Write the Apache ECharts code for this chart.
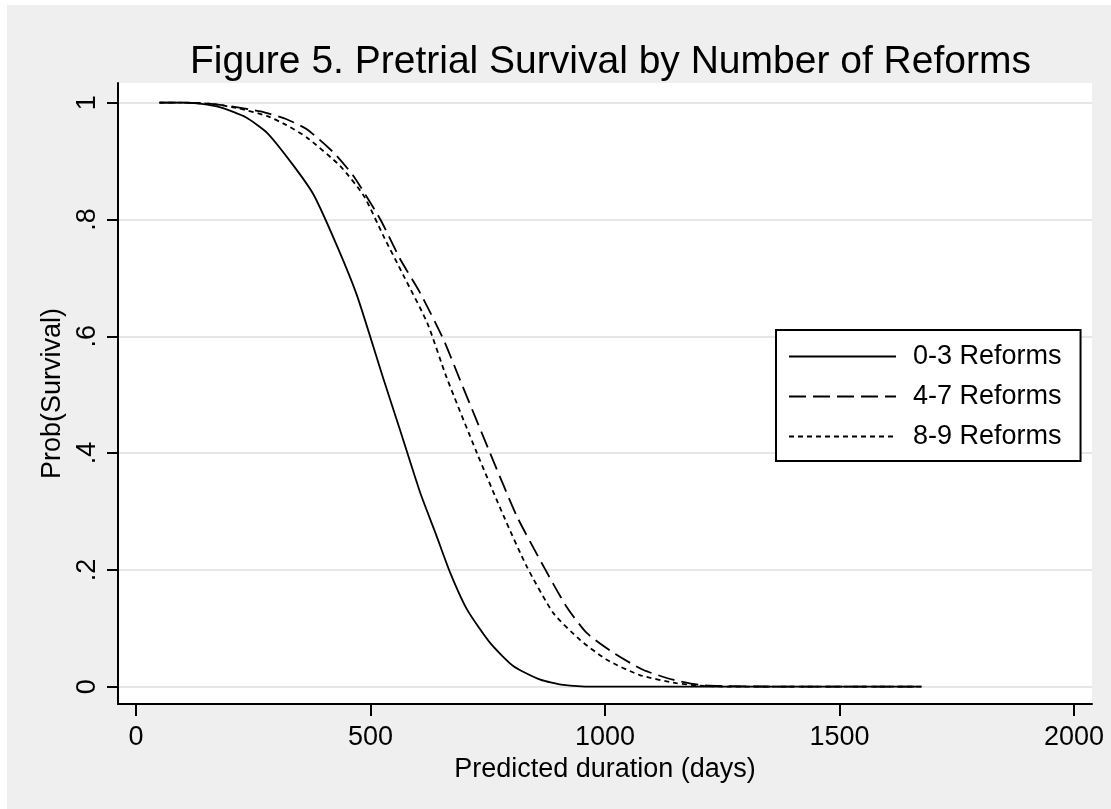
<!DOCTYPE html>
<html>
<head>
<meta charset="utf-8">
<title>Pretrial Survival by Number of Reforms</title>
<script src="https://cdn.jsdelivr.net/npm/echarts@6/dist/echarts.min.js"></script>
<style>
  html, body { margin: 0; padding: 0; background: #ffffff; }
  #chart { position: absolute; left: 7px; top: 5px; width: 1104px; height: 804px; }
</style>
</head>
<body>
<div id="chart"></div>
<script>
// Predicted survival curves (probability of remaining in pretrial) by reform count.
const days03 = [50, 100, 140, 180, 234, 280, 337, 379, 429, 472, 528, 564, 606, 640, 670, 706, 755, 805, 862, 911, 975, 1100, 1300, 1500, 1675];
const surv03 = [1, 1, 0.998, 0.992, 0.975, 0.948, 0.891, 0.842, 0.754, 0.668, 0.526, 0.437, 0.332, 0.26, 0.195, 0.132, 0.075, 0.035, 0.012, 0.003, 0, 0, 0, 0, 0];

const days47 = [50, 100, 160, 210, 266, 320, 365, 422, 464, 521, 564, 606, 656, 688, 755, 812, 869, 918, 961, 1018, 1081, 1145, 1202, 1260, 1400, 1675];
const surv47 = [1, 1, 0.998, 0.993, 0.985, 0.972, 0.954, 0.914, 0.874, 0.80, 0.731, 0.674, 0.594, 0.531, 0.40, 0.292, 0.206, 0.137, 0.092, 0.058, 0.029, 0.012, 0.003, 0.001, 0, 0];

const days89 = [50, 100, 160, 220, 280, 320, 365, 436, 486, 528, 571, 621, 662, 727, 784, 833, 890, 947, 1004, 1074, 1152, 1202, 1260, 1400, 1675];
const surv89 = [1, 1, 0.998, 0.99, 0.977, 0.962, 0.94, 0.891, 0.84, 0.771, 0.703, 0.623, 0.53, 0.40, 0.292, 0.206, 0.126, 0.08, 0.046, 0.02, 0.006, 0.002, 0, 0, 0];

const seriesNames = ['0-3 Reforms', '4-7 Reforms', '8-9 Reforms'];
const xTicks = [0, 500, 1000, 1500, 2000];
const yTicks = [0, 0.2, 0.4, 0.6, 0.8, 1];

const FONT = '"Liberation Sans", Arial, Helvetica, sans-serif';

function pairs(xs, ys) {
  return xs.map((x, i) => [x, ys[i]]);
}

function yLabel(v) {
  if (v === 0) return '0';
  if (v === 1) return '1';
  return String(Math.round(v * 10) / 10).replace(/^0\./, '.');
}

const chart = echarts.init(document.getElementById('chart'), null, { renderer: 'canvas' });

function curve(name, xs, ys, dash) {
  return {
    name: name,
    type: 'line',
    data: pairs(xs, ys),
    showSymbol: false,
    symbol: 'none',
    smooth: 0.2,
    lineStyle: { color: '#000000', width: 1.8, type: dash },
    itemStyle: { color: '#000000' },
    emphasis: { disabled: true },
    animation: false
  };
}

chart.setOption({
  backgroundColor: '#efefef',
  animation: false,
  textStyle: { fontFamily: FONT },
  title: {
    text: 'Figure 5. Pretrial Survival by Number of Reforms',
    left: 178,
    top: 33,
    textStyle: { fontFamily: FONT, fontSize: 39, fontWeight: 'normal', color: '#000000' }
  },
  grid: {
    left: 111,
    top: 78,
    right: 19,
    bottom: 105,
    show: true,
    backgroundColor: '#ffffff',
    borderWidth: 0
  },
  legend: {
    orient: 'vertical',
    left: 769,
    top: 325,
    data: seriesNames,
    itemWidth: 107,
    itemHeight: 20,
    itemGap: 13,
    padding: [13, 19, 11, 12],
    backgroundColor: '#ffffff',
    borderColor: '#000000',
    borderWidth: 2,
    borderRadius: 0,
    selectedMode: false,
    itemStyle: { color: 'rgba(0,0,0,0)', borderWidth: 0, opacity: 0 },
    textStyle: {
      fontFamily: FONT,
      fontSize: 27,
      color: '#000000',
      padding: [0, 0, 0, 12]
    }
  },
  xAxis: {
    type: 'value',
    min: -38.4,
    max: 2038.4,
    name: 'Predicted duration (days)',
    nameLocation: 'middle',
    nameGap: 45,
    nameTextStyle: { fontFamily: FONT, fontSize: 27, color: '#000000' },
    axisLine: { show: true, onZero: false, lineStyle: { color: '#000000', width: 2 } },
    axisTick: { show: true, length: 12, lineStyle: { color: '#000000', width: 2 }, customValues: xTicks },
    axisLabel: { fontFamily: FONT, fontSize: 27, color: '#000000', margin: 20, customValues: xTicks, formatter: v => String(v) },
    splitLine: { show: false }
  },
  yAxis: {
    type: 'value',
    min: -0.0296,
    max: 1.0337,
    name: 'Prob(Survival)',
    nameLocation: 'middle',
    nameRotate: 90,
    nameGap: 47,
    nameTextStyle: { fontFamily: FONT, fontSize: 27, color: '#000000' },
    axisLine: { show: true, onZero: false, lineStyle: { color: '#000000', width: 2 } },
    axisTick: { show: true, length: 11, lineStyle: { color: '#000000', width: 2 }, customValues: yTicks },
    axisLabel: { fontFamily: FONT, fontSize: 27, color: '#000000', rotate: 90, margin: 17, customValues: yTicks, formatter: yLabel },
    splitLine: { show: true, lineStyle: { color: '#e6e6e6', width: 2 } }
  },
  series: [
    curve(seriesNames[0], days03, surv03, 'solid'),
    curve(seriesNames[1], days47, surv47, [17, 7]),
    curve(seriesNames[2], days89, surv89, [5, 4])
  ]
});
</script>
</body>
</html>
